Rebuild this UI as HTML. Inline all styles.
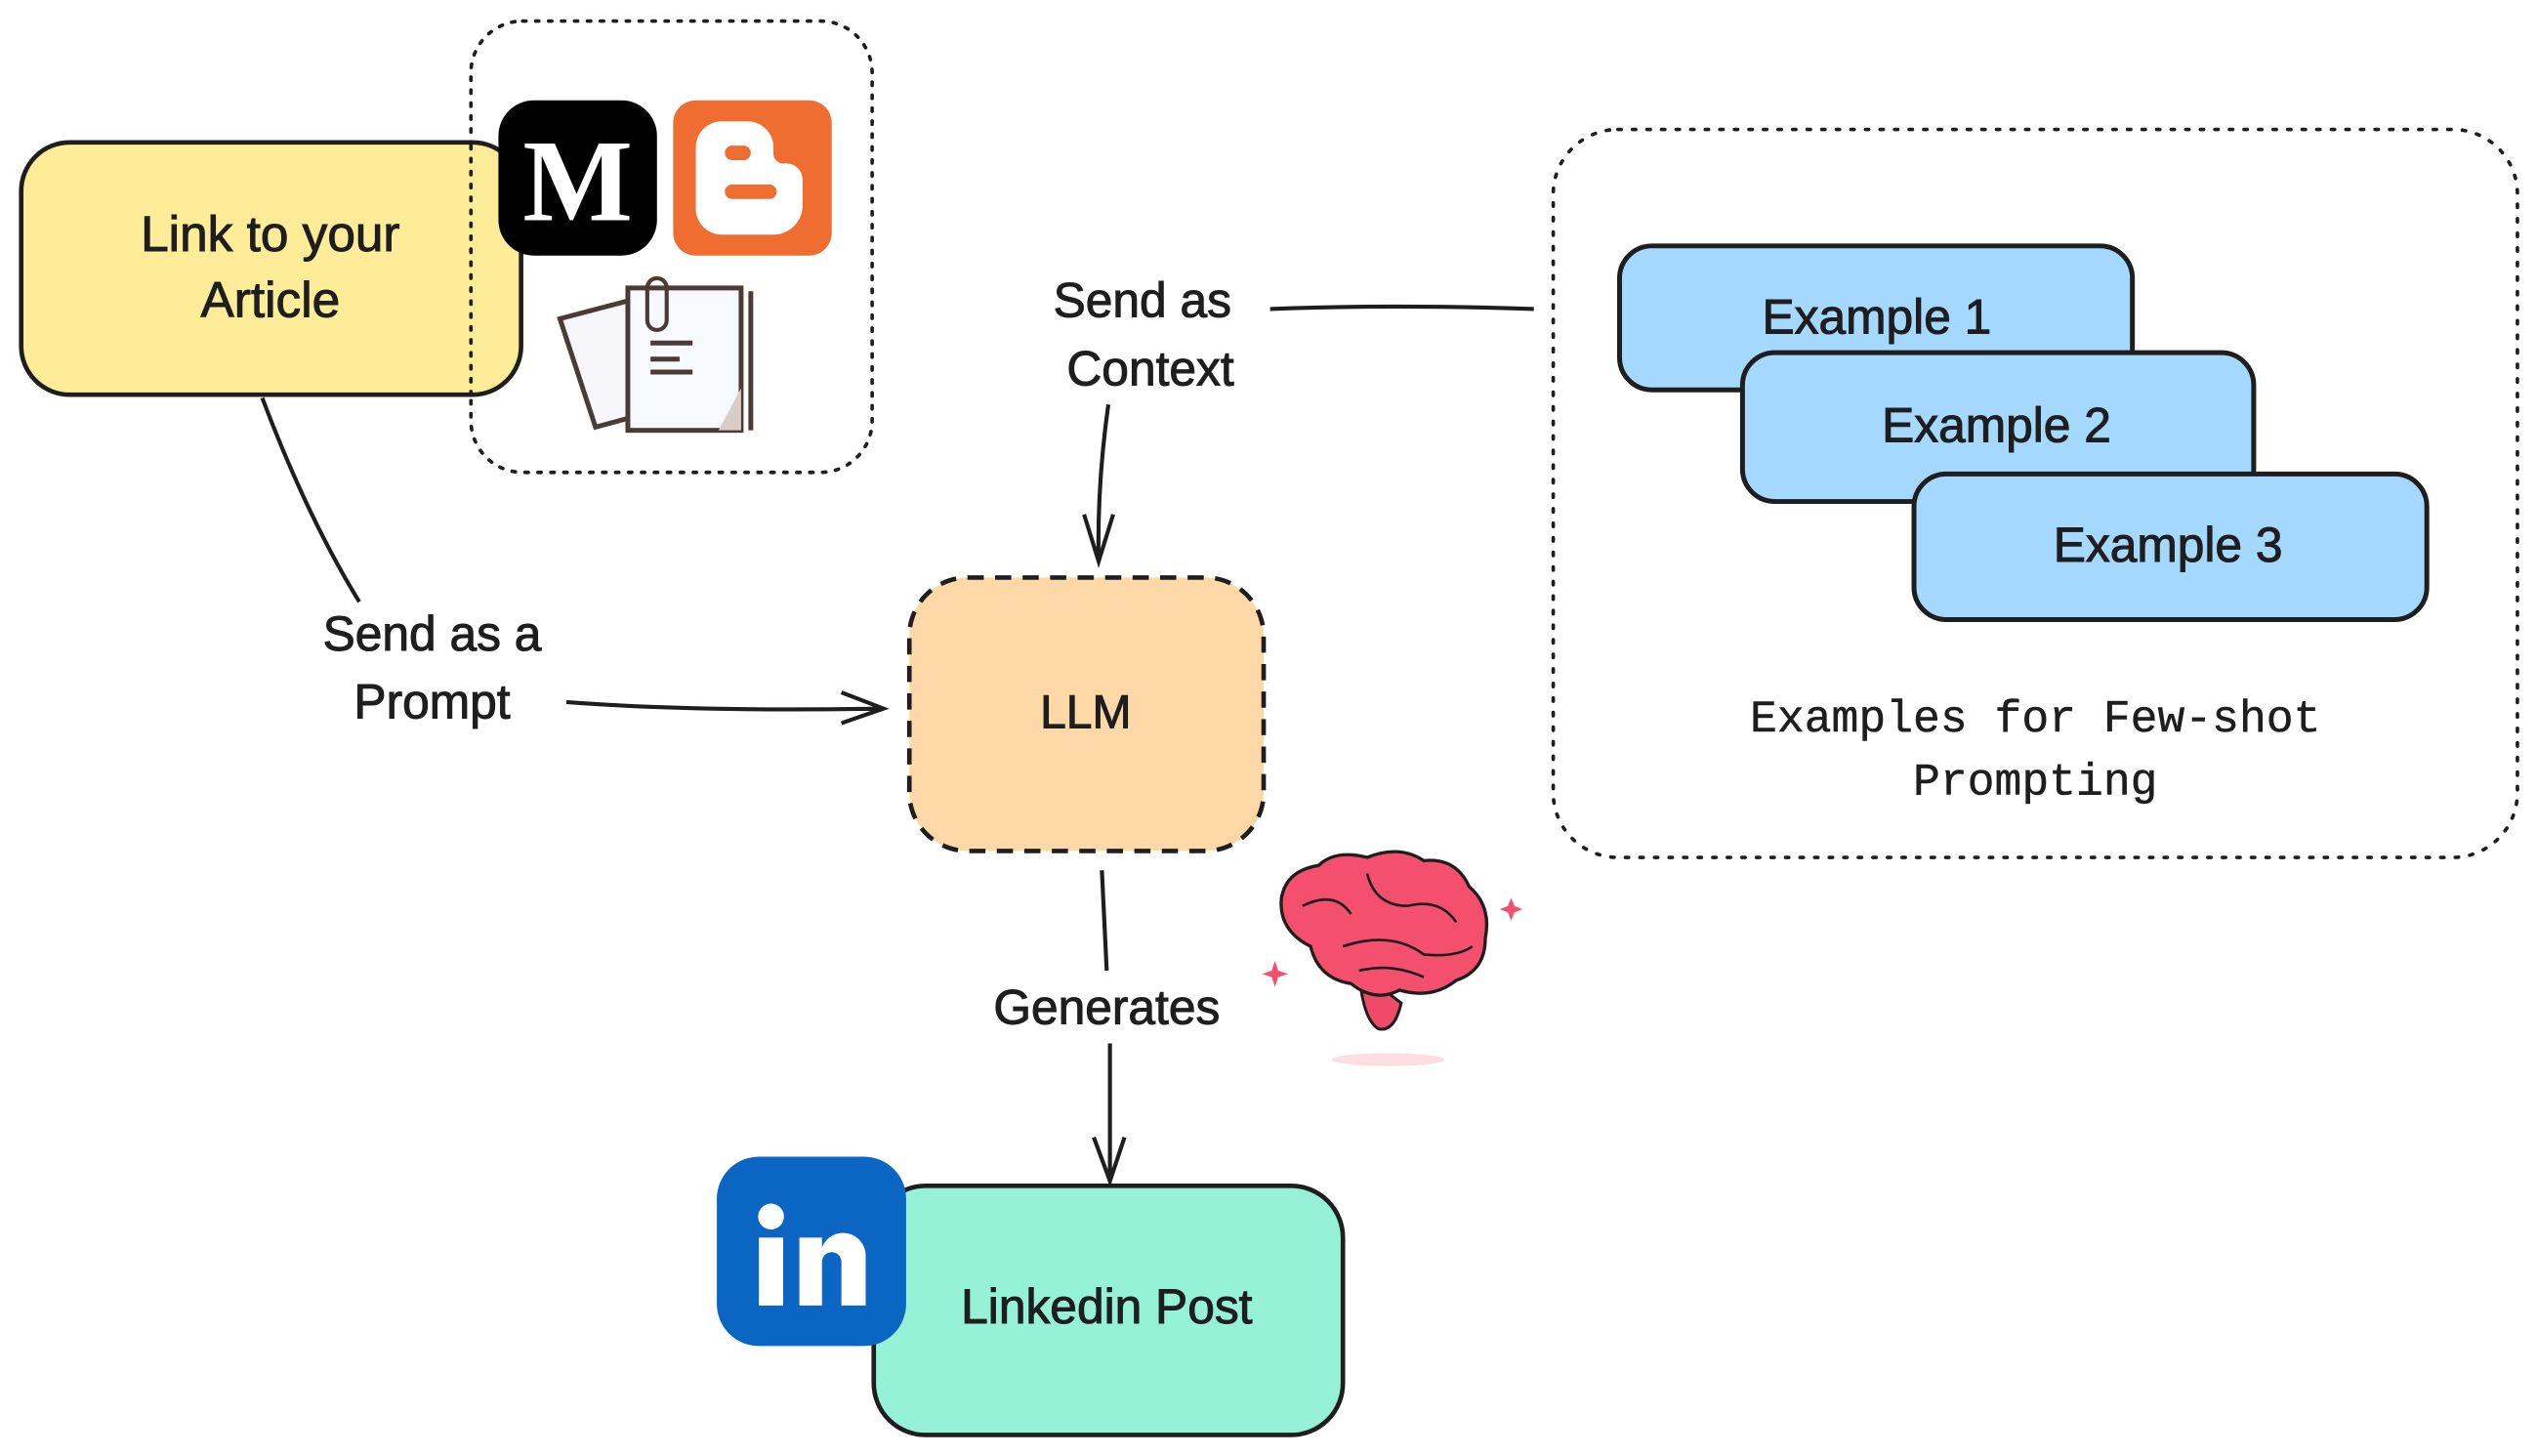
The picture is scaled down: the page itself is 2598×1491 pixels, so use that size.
<!DOCTYPE html>
<html><head><meta charset="utf-8"><style>
html,body{margin:0;padding:0;background:#fff;}
svg{display:block;}
.h{font-family:"Liberation Sans",sans-serif;fill:#1e1e1e;text-anchor:middle;stroke:#1e1e1e;stroke-width:0.6;}
.m{font-family:"Liberation Mono",monospace;fill:#1e1e1e;text-anchor:middle;stroke:#1e1e1e;stroke-width:0.3;}
</style></head><body>
<svg width="2598" height="1491" viewBox="0 0 1568 900" xmlns="http://www.w3.org/2000/svg">
<rect width="1568" height="900" fill="#ffffff"/>
<rect x="291" y="13" width="248" height="279" rx="32" fill="none" stroke="#1e1e1e" stroke-width="2.2" stroke-dasharray="2 6" stroke-linecap="round"/>
<rect x="13" y="88" width="309" height="156" rx="30" fill="#ffec99" stroke="#1e1e1e" stroke-width="2.8"/>
<text class="h" x="167" y="155" font-size="31">Link to your</text>
<text class="h" x="167" y="196" font-size="31">Article</text>
<line x1="291" y1="90" x2="291" y2="244" stroke="#1e1e1e" stroke-width="2.2" stroke-dasharray="2 6" stroke-linecap="round"/>
<rect x="308" y="62" width="98" height="96" rx="22" fill="#000"/>
<text x="357" y="136" font-family="Liberation Serif,serif" font-weight="bold" font-size="72" fill="#fff" text-anchor="middle">M</text>
<rect x="416" y="62" width="98" height="96" rx="14" fill="#f06d32"/>
<path d="M446 75 h16 a16 16 0 0 1 16 16 v4 a6 6 0 0 0 6 6 h2 a10 10 0 0 1 10 10 v16 a18 18 0 0 1 -18 18 h-32 a16 16 0 0 1 -16 -16 v-38 a16 16 0 0 1 16 -16z" fill="#fff"/>
<rect x="448" y="90" width="16" height="9" rx="4.5" fill="#f06d32"/>
<rect x="448" y="114" width="32" height="9" rx="4.5" fill="#f06d32"/>
<path d="M346 197 L388 186 L405 254 L368 264 Z" fill="#f7f7fb" stroke="#4a3b36" stroke-width="3"/>
<rect x="388" y="178" width="70" height="88" fill="#f8f8ff" stroke="#4a3b36" stroke-width="3"/>
<path d="M458 240 L444 266 L458 266Z" fill="#d8ccc8"/>
<line x1="464" y1="180" x2="464" y2="266" stroke="#4a3b36" stroke-width="3"/>
<path d="M400 198 v-20 a6 6 0 0 1 12 0 v20 a6 6 0 0 1 -12 0z" fill="none" stroke="#4a3b36" stroke-width="2.5"/>
<line x1="402" y1="212" x2="428" y2="212" stroke="#4a3b36" stroke-width="3"/>
<line x1="402" y1="222" x2="420" y2="222" stroke="#4a3b36" stroke-width="3"/>
<line x1="402" y1="230" x2="428" y2="230" stroke="#4a3b36" stroke-width="3"/>
<path d="M162 246 Q190 320 222 372" fill="none" stroke="#1e1e1e" stroke-width="2.5"/>
<text class="h" x="267" y="402" font-size="30">Send as a</text>
<text class="h" x="267" y="444" font-size="30">Prompt</text>
<path d="M350 434 Q430 440 546 438 M520 428 L546 438 L520 447" fill="none" stroke="#1e1e1e" stroke-width="2.5"/>
<rect x="562" y="357" width="219" height="169" rx="36" fill="#ffd8a8" stroke="#1e1e1e" stroke-width="2.8" stroke-dasharray="10 7"/>
<text class="h" x="671" y="450" font-size="29">LLM</text>
<text class="h" x="706" y="196" font-size="30">Send as</text>
<text class="h" x="711" y="238" font-size="30">Context</text>
<path d="M785 191 Q860 188 948 191" fill="none" stroke="#1e1e1e" stroke-width="2.5"/>
<path d="M685 250 Q678 300 679 347 M670 318 L679 347 L688 318" fill="none" stroke="#1e1e1e" stroke-width="2.5"/>
<rect x="960" y="80" width="596" height="450" rx="40" fill="none" stroke="#1e1e1e" stroke-width="2.2" stroke-dasharray="2 7" stroke-linecap="round"/>
<rect x="1001" y="152" width="317" height="89" rx="20" fill="#a5d8ff" stroke="#1e1e1e" stroke-width="3"/>
<text class="h" x="1160" y="206" font-size="30">Example 1</text>
<rect x="1077" y="218" width="316" height="92" rx="20" fill="#a5d8ff" stroke="#1e1e1e" stroke-width="3"/>
<text class="h" x="1234" y="273" font-size="30">Example 2</text>
<rect x="1183" y="293" width="317" height="90" rx="20" fill="#a5d8ff" stroke="#1e1e1e" stroke-width="3"/>
<text class="h" x="1340" y="347" font-size="30">Example 3</text>
<text class="m" x="1258" y="452" font-size="28">Examples for Few-shot</text>
<text class="m" x="1258" y="491" font-size="28">Prompting</text>
<path d="M681 538 L684 600" stroke="#1e1e1e" stroke-width="2.5"/>
<text class="h" x="684" y="633" font-size="30">Generates</text>
<path d="M686 645 L686 730 M676 703 L686 730 L695 703" fill="none" stroke="#1e1e1e" stroke-width="2.5"/>
<rect x="540" y="733" width="290" height="154" rx="32" fill="#96f2d7" stroke="#1e1e1e" stroke-width="2.8"/>
<text class="h" x="684" y="818" font-size="30">Linkedin Post</text>
<rect x="443" y="715" width="117" height="117" rx="26" fill="#0a66c2"/>
<rect x="469" y="765" width="15" height="42" fill="#fff"/>
<circle cx="476.5" cy="752" r="8" fill="#fff"/>
<path d="M494 765 h14 v6 a14 14 0 0 1 27 6 v30 h-15 v-27 a6 6 0 0 0 -12 0 v27 h-14z" fill="#fff"/>
<ellipse cx="858" cy="655" rx="35" ry="4" fill="#fbdde3"/>
<path d="M840 600 Q842 630 852 636 Q862 638 866 620 Z" fill="#ef4a67" stroke="#1e1e1e" stroke-width="1.8"/>
<path d="M810 585 Q790 575 792 555 Q795 538 815 535 Q825 525 845 530 Q865 522 880 532 Q900 530 908 548 Q922 560 918 580 Q918 600 900 606 Q885 618 865 612 Q850 620 835 608 Q815 605 810 585Z" fill="#f4506d" stroke="#1e1e1e" stroke-width="2"/>
<path d="M805 560 Q825 550 835 565 M845 540 Q850 560 870 560 Q890 555 900 570 M830 585 Q860 575 880 590 Q900 592 910 585 M840 600 Q860 595 880 604" fill="none" stroke="#1e1e1e" stroke-width="1.6"/>
<g fill="#f4506d"><path d="M786 600 l2 -6 l2 6 l6 2 l-6 2 l-2 6 l-2 -6 l-6 -2z"/><path d="M932 560 l2 -5 l2 5 l5 2 l-5 2 l-2 5 l-2 -5 l-5 -2z"/></g>
</svg>
</body></html>
